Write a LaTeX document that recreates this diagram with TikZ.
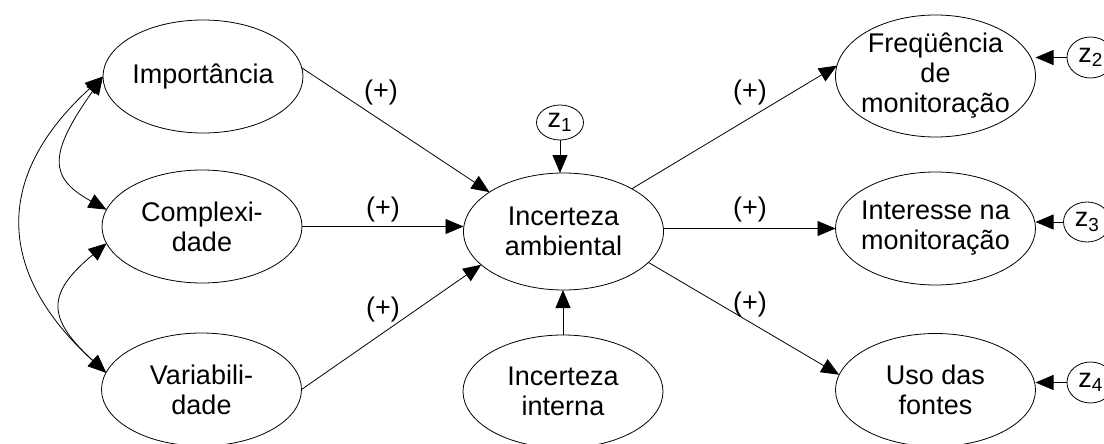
\documentclass[tikz,border=0pt]{standalone}
\usepackage{fontspec}
\setmainfont{Liberation Sans}
\usetikzlibrary{arrows.meta,shapes.geometric}
\begin{document}
\begin{tikzpicture}[x=1pt,y=-1pt,
  ell/.style={draw, ellipse, line width=0.8pt, inner sep=0pt, outer sep=0pt,
              minimum width=200pt, minimum height=113pt},
  zc/.style={draw, ellipse, line width=0.8pt, inner sep=0pt, outer sep=0pt,
              minimum width=47pt, minimum height=41pt},
  txt/.style={font=\fontsize{27}{30}\selectfont, align=center, inner sep=0pt},
  sgn/.style={font=\fontsize{27}{30}\selectfont, inner sep=0pt},
  arr/.style={line width=0.8pt, -{Triangle[length=18pt,width=15pt]}},
  darr/.style={line width=0.8pt, {Triangle[length=18pt,width=15pt]}-{Triangle[length=18pt,width=15pt]}}]
\useasboundingbox (0,0) rectangle (1104,444);
\clip (0,0) rectangle (1104,444);

% nodes
\node[ell, label={[txt]center:Importância}] (imp) at (203,76.5) {};
\node[ell, label={[txt]center:{Complexi-\\dade}}] (comp) at (202,226.5) {};
\node[ell, label={[txt]center:{Variabili-\\dade}}] (var) at (201.5,389.5) {};
\node[ell, minimum height=117pt, label={[txt]center:{Incerteza\\ambiental}}] (amb) at (563.5,231.5) {};
\node[ell, label={[txt]center:{Incerteza\\interna}}] (intn) at (563,391.5) {};
\node[ell, minimum height=122pt, label={[txt]center:{Freqüência\\de\\monitoração}}] (freq) at (935.5,76) {};
\node[ell, label={[txt]center:{Interesse na\\monitoração}}] (inter) at (935.5,228.5) {};
\node[ell, label={[txt]center:{Uso das\\fontes}}] (uso) at (935.5,390) {};

\node[zc, minimum height=35pt, label={[txt]center:{z\textsubscript{1}}}] (z1) at (560,122.5) {};
\node[zc, label={[txt]center:{z\textsubscript{2}}}] (z2) at (1090.5,57.5) {};
\node[zc, minimum height=40pt, label={[txt]center:{z\textsubscript{3}}}] (z3) at (1087,222) {};
\node[zc, label={[txt]center:{z\textsubscript{4}}}] (z4) at (1090.5,382.5) {};

% signs
\node[sgn] (p1) at (381,93) {(+)};
\node[sgn] (p2) at (383,210) {(+)};
\node[sgn] (p3) at (383,310) {(+)};
\node[sgn] (p4) at (750,93) {(+)};
\node[sgn] (p5) at (750,210) {(+)};
\node[sgn] (p6) at (750,305) {(+)};

% straight arrows
\draw[arr] (imp.5) -- (amb.152);
\draw[arr] (comp.east) -- (comp.east -| amb.west);
\draw[arr] (var.east) -- (amb.202);
\draw[arr] (amb.32) -- (freq.174);
\draw[arr] (inter.west -| amb.east) -- (inter.west);
\draw[arr] (amb.-20) -- (uso.171);
\draw[arr] (z1.south) -- (z1.south |- amb.north);
\draw[arr] (intn.north) -- (intn.north |- amb.south);
\draw[arr] (z2.west) -- (z2.west -| freq.east);
\draw[arr] (z3.west) -- (z3.west -| inter.east);
\draw[arr] (z4.west) -- (z4.west -| uso.east);

% curved correlations
\draw[darr] (imp.west) .. controls +(-55,78) and +(-58,-32) .. (comp.170);
\draw[darr] (comp.190) .. controls +(-60,50) and +(-60,-55) .. (var.170);
\draw[darr] (imp.west) .. controls +(-110,100) and +(-110,-100) .. (var.170);
\end{tikzpicture}
\end{document}
